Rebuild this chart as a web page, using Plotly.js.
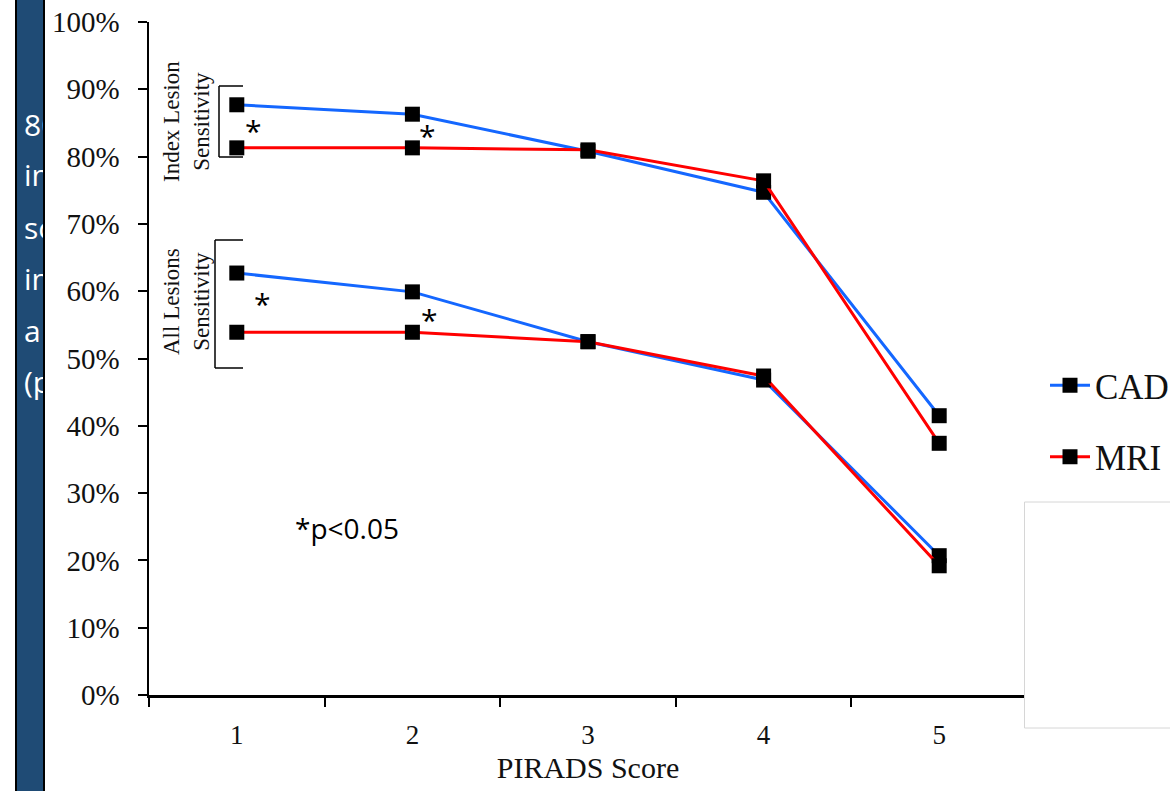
<!DOCTYPE html>
<html>
<head>
<meta charset="utf-8">
<script src="https://cdn.plot.ly/plotly-3.0.1.min.js"></script>
<style>html,body{margin:0;padding:0;background:#fff;}#chart{width:1170px;height:791px;}</style>
</head>
<body>
<div id="chart"></div>
<script>
// ---- data ----
const pirads = ['1', '2', '3', '4', '5'];
const cadIndex = [0.877, 0.863, 0.808, 0.747, 0.415];
const mriIndex = [0.813, 0.813, 0.810, 0.764, 0.374];
const cadAll = [0.627, 0.599, 0.525, 0.468, 0.207];
const mriAll = [0.539, 0.539, 0.525, 0.474, 0.192];
const seriesNames = ['CAD', 'MRI'];
const yTickVals = [0, 0.1, 0.2, 0.3, 0.4, 0.5, 0.6, 0.7, 0.8, 0.9, 1.0];
const stripLines = ['80%', 'in', 'sc', 'in', 'a', '(p'];

// ---- geometry helpers (plot area: x 149..1027, y 22..695) ----
const L = 149, R = 1027, T = 22, B = 695;
const px = p => (p - L) / (R - L);
const py = p => (B - p) / (B - T);

const BLUE = '#1467ff', RED = '#ff0000';
const mk = {symbol: 'square', size: 15, color: '#000'};

function tr(y, name, color, show) {
  return {
    x: pirads, y: y, type: 'scatter', mode: 'lines+markers', name: name,
    legendgroup: name, showlegend: show,
    line: {color: color, width: 3}, marker: mk, hoverinfo: 'skip'
  };
}

const data = [
  tr(cadIndex, seriesNames[0], BLUE, true),
  tr(mriIndex, seriesNames[1], RED, true),
  tr(cadAll, seriesNames[0], BLUE, false),
  tr(mriAll, seriesNames[1], RED, false)
];

const serif = 'Liberation Serif, Times New Roman, serif';
const sans = 'Open Sans, Noto Sans, sans-serif';

function ann(x, y, text, font, extra) {
  return Object.assign({xref: 'paper', yref: 'paper', x: px(x), y: py(y), text: text,
    xanchor: 'center', yanchor: 'middle', showarrow: false, font: font}, extra || {});
}

const labFont = {family: serif, size: 23, color: '#111'};
const astFont = {family: sans, size: 30, color: '#000'};
const annotations = [
  ann(186, 122, 'Index Lesion<br>Sensitivity', labFont, {textangle: -90}),
  ann(186, 302, 'All Lesions<br>Sensitivity', labFont, {textangle: -90}),
  ann(253, 130, '*', astFont),
  ann(427, 136, '*', astFont),
  ann(262, 304, '*', astFont),
  ann(429, 319, '*', astFont),
  ann(347, 528, '*p<0.05', {family: sans, size: 28, color: '#000'})
];

const baselines = [133, 184, 236, 287, 339, 390];
stripLines.forEach((t, i) => {
  annotations.push(ann(23, baselines[i] - 9, t, {family: sans, size: 30, color: '#ffffff'},
    {xanchor: 'left', align: 'left', width: 19, borderpad: 0}));
});

const blk = {color: '#000', width: 1.5};
const shapes = [
  // left strip
  {type: 'rect', xref: 'paper', yref: 'paper', x0: px(16), x1: px(44), y0: py(-5), y1: py(800),
   fillcolor: '#1f4b75', line: {color: '#000', width: 2}, layer: 'above'},
  // brackets
  {type: 'line', xref: 'paper', yref: 'paper', x0: px(219), x1: px(219), y0: py(86), y1: py(157), line: blk},
  {type: 'line', xref: 'paper', yref: 'paper', x0: px(219), x1: px(243), y0: py(86), y1: py(86), line: blk},
  {type: 'line', xref: 'paper', yref: 'paper', x0: px(219), x1: px(243), y0: py(157), y1: py(157), line: blk},
  {type: 'line', xref: 'paper', yref: 'paper', x0: px(215), x1: px(215), y0: py(240), y1: py(368), line: blk},
  {type: 'line', xref: 'paper', yref: 'paper', x0: px(215), x1: px(243), y0: py(240), y1: py(240), line: blk},
  {type: 'line', xref: 'paper', yref: 'paper', x0: px(215), x1: px(243), y0: py(368), y1: py(368), line: blk},
  // bottom-right box
  {type: 'rect', xref: 'paper', yref: 'paper', x0: px(1024.5), x1: px(1180), y0: py(502), y1: py(728),
   fillcolor: '#ffffff', line: {color: '#d6d6d6', width: 1}, layer: 'above'}
];

const layout = {
  width: 1170, height: 791,
  margin: {l: L, r: 1170 - R, t: T, b: 791 - B, pad: 0, autoexpand: false},
  paper_bgcolor: '#fff', plot_bgcolor: '#fff',
  showlegend: true,
  xaxis: {
    type: 'category', range: [-0.5, 4.5], tickson: 'boundaries', automargin: false,
    ticks: 'outside', ticklen: 9, tickwidth: 2, tickcolor: '#000',
    showline: true, linecolor: '#000', linewidth: 2.5, showgrid: false, zeroline: false,
    tickfont: {family: serif, size: 27, color: '#111'}, ticklabelstandoff: 14,
    title: {text: 'PIRADS Score', font: {family: serif, size: 30, color: '#111'}, standoff: 8}
  },
  yaxis: {
    range: [0, 1], tickvals: yTickVals, tickformat: '.0%', automargin: false,
    ticks: 'outside', ticklen: 9, tickwidth: 2, tickcolor: '#000',
    showline: true, linecolor: '#000', linewidth: 2.5, showgrid: false, zeroline: false,
    tickfont: {family: serif, size: 29, color: '#111'}, ticklabelstandoff: 12
  },
  legend: {
    x: px(1045), xanchor: 'left', y: py(356), yanchor: 'top', itemwidth: 40,
    font: {family: serif, size: 35, color: '#111'}, tracegroupgap: 23,
    bgcolor: 'rgba(0,0,0,0)', borderwidth: 0
  },
  annotations: annotations,
  shapes: shapes
};

Plotly.newPlot('chart', data, layout, {displayModeBar: false, staticPlot: true});
</script>
</body>
</html>
